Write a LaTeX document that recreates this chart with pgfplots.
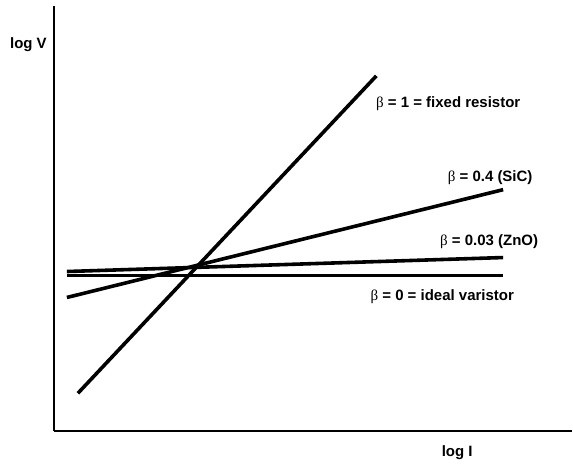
\documentclass[border=0pt]{standalone}
\usepackage{pgfplots}
\pgfplotsset{compat=1.18}
\usepackage{fontspec}
\setmainfont{Liberation Sans}
\newfontfamily\betafont{Liberation Serif}
\newcommand{\B}{{\mdseries\betafont β}}
\tikzset{lbl/.style={font=\fontsize{15bp}{18bp}\selectfont\bfseries, inner sep=0pt}}
\begin{document}
\begin{tikzpicture}
\begin{axis}[
    x=1bp, y=1bp,
    xmin=54, xmax=573, ymin=34, ymax=460,
    axis x line*=bottom, axis y line*=left,
    axis line style={-, line width=2bp},
    xtick=\empty, ytick=\empty,
    clip=false,
]
\path (axis cs:0,0) rectangle (axis cs:573,466);
% beta = 1
\addplot[black, line width=3.6bp] coordinates {(78,72) (377,390)};
% beta = 0.4
\addplot[black, line width=3.6bp] coordinates {(67,168) (504,276)};
% beta = 0.03
\addplot[black, line width=3.6bp] coordinates {(67,194) (504,208)};
% beta = 0
\addplot[black, line width=3.6bp] coordinates {(67,190) (504,190)};
\node[lbl] at (axis cs:449,362) {\B\ = 1 = fixed resistor};
\node[lbl] at (axis cs:491,288) {\B\ = 0.4 (SiC)};
\node[lbl] at (axis cs:490,224) {\B\ = 0.03 (ZnO)};
\node[lbl] at (axis cs:443,169) {\B\ = 0 = ideal varistor};
\node[lbl, anchor=east] at (axis cs:47,421) {log V};
\node[lbl] at (axis cs:458,13) {log I};
\end{axis}
\end{tikzpicture}
\end{document}
